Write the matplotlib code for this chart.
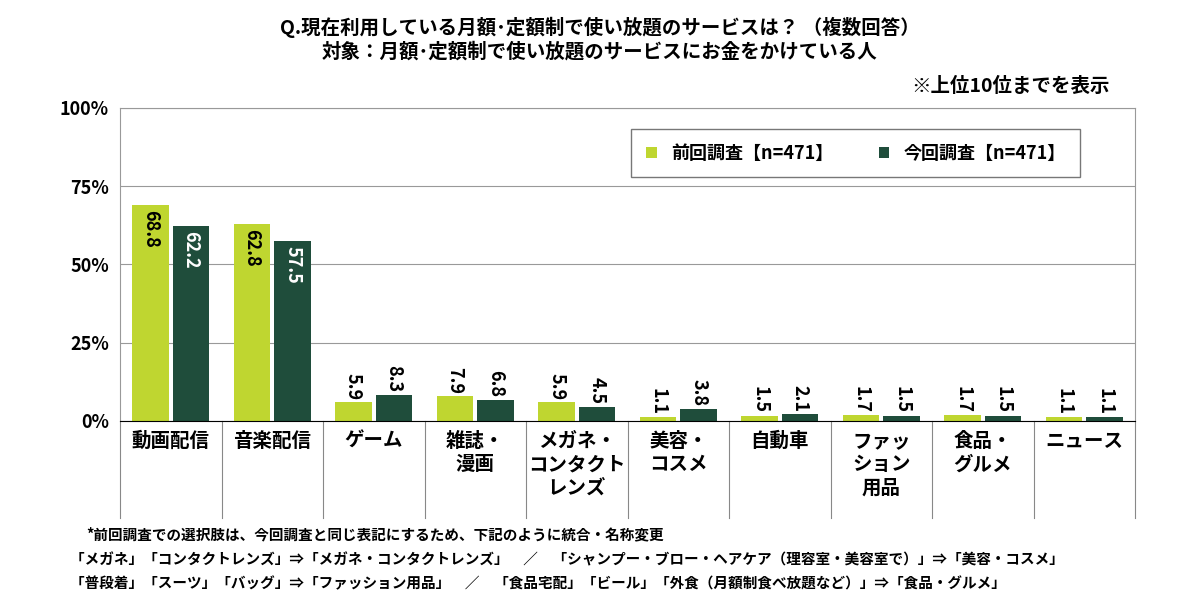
import matplotlib
matplotlib.use("Agg")
import matplotlib.pyplot as plt
import numpy as np

plt.rcParams["font.family"] = ["Noto Sans CJK JP", "DejaVu Sans"]
plt.rcParams["font.weight"] = "bold"

categories = ["動画配信", "音楽配信", "ゲーム", "雑誌・\n漫画", "メガネ・\nコンタクト\nレンズ",
              "美容・\nコスメ", "自動車", "ファッ\nション\n用品", "食品・\nグルメ", "ニュース"]
prev_vals = [68.8, 62.8, 5.9, 7.9, 5.9, 1.1, 1.5, 1.7, 1.7, 1.1]
curr_vals = [62.2, 57.5, 8.3, 6.8, 4.5, 3.8, 2.1, 1.5, 1.5, 1.1]
series_names = ["前回調査【n=471】", "今回調査【n=471】"]
yticks = [0, 25, 50, 75, 100]

light = "#BFD630"
dark = "#1F4D3B"

fig = plt.figure(figsize=(12, 6.09), dpi=100)
ax = fig.add_axes([0.1, 0.309, 0.846, 0.514])

x = np.arange(len(categories))
w = 0.36
b1 = ax.bar(x - 0.2, prev_vals, w, color=light, label=series_names[0])
b2 = ax.bar(x + 0.2, curr_vals, w, color=dark, label=series_names[1])

for bars, vals, inner in ((b1, prev_vals, "black"), (b2, curr_vals, "white")):
    for bar, v in zip(bars, vals):
        cx = bar.get_x() + bar.get_width() / 2
        if v > 20:
            ax.text(cx, v - 1.5, f"{v:.1f}", rotation=-90, ha="center", va="top",
                    fontsize=13, color=inner)
        else:
            ax.text(cx, v + 0.8, f"{v:.1f}", rotation=-90, ha="center", va="bottom",
                    fontsize=13, color="black")

ax.set_xlim(-0.5, len(categories) - 0.5)
ax.set_ylim(0, 100)
ax.set_yticks(yticks)
ax.set_yticklabels([f"{t}%" for t in yticks], fontsize=13)
ax.yaxis.grid(True, color="#999999", linewidth=0.8)
ax.set_axisbelow(True)
ax.set_xticks([])
ax.tick_params(axis="y", length=0, pad=8)
for s in ax.spines.values():
    s.set_color("#999999")
    s.set_linewidth(0.8)
ax.spines["bottom"].set_color("black")

# category label grid
for i in range(len(categories) + 1):
    ax.plot([i - 0.5, i - 0.5], [0, -31], color="#888888", linewidth=0.8, clip_on=False)
for i, c in enumerate(categories):
    ax.text(i, -3.5, c, ha="center", va="top", fontsize=14, linespacing=1.3)

leg = ax.legend(loc="upper right", bbox_to_anchor=(0.955, 0.96), ncol=2, fontsize=13,
                frameon=True, fancybox=False, edgecolor="#555555", handlelength=0.6,
                handleheight=0.6, columnspacing=2.5, borderpad=0.8)
leg.get_frame().set_linewidth(1.0)

fig.text(0.5, 0.955, "Q.現在利用している月額･定額制で使い放題のサービスは？ （複数回答）",
         ha="center", va="center", fontsize=14)
fig.text(0.5, 0.915, "対象：月額･定額制で使い放題のサービスにお金をかけている人",
         ha="center", va="center", fontsize=14)
fig.text(0.925, 0.858, "※上位10位までを表示", ha="right", va="center", fontsize=14)

notes = ["*前回調査での選択肢は、今回調査と同じ表記にするため、下記のように統合・名称変更",
         "「メガネ」「コンタクトレンズ」⇒「メガネ・コンタクトレンズ」　／　「シャンプー・ブロー・ヘアケア（理容室・美容室で）」⇒「美容・コスメ」",
         "「普段着」「スーツ」「バッグ」⇒「ファッション用品」　／　「食品宅配」「ビール」「外食（月額制食べ放題など）」⇒「食品・グルメ」"]
for k, n in enumerate(notes):
    fig.text(0.058 if k else 0.072, 0.122 - k * 0.04, n, ha="left", va="center", fontsize=10.5)

fig.savefig("out.png", dpi=100)
